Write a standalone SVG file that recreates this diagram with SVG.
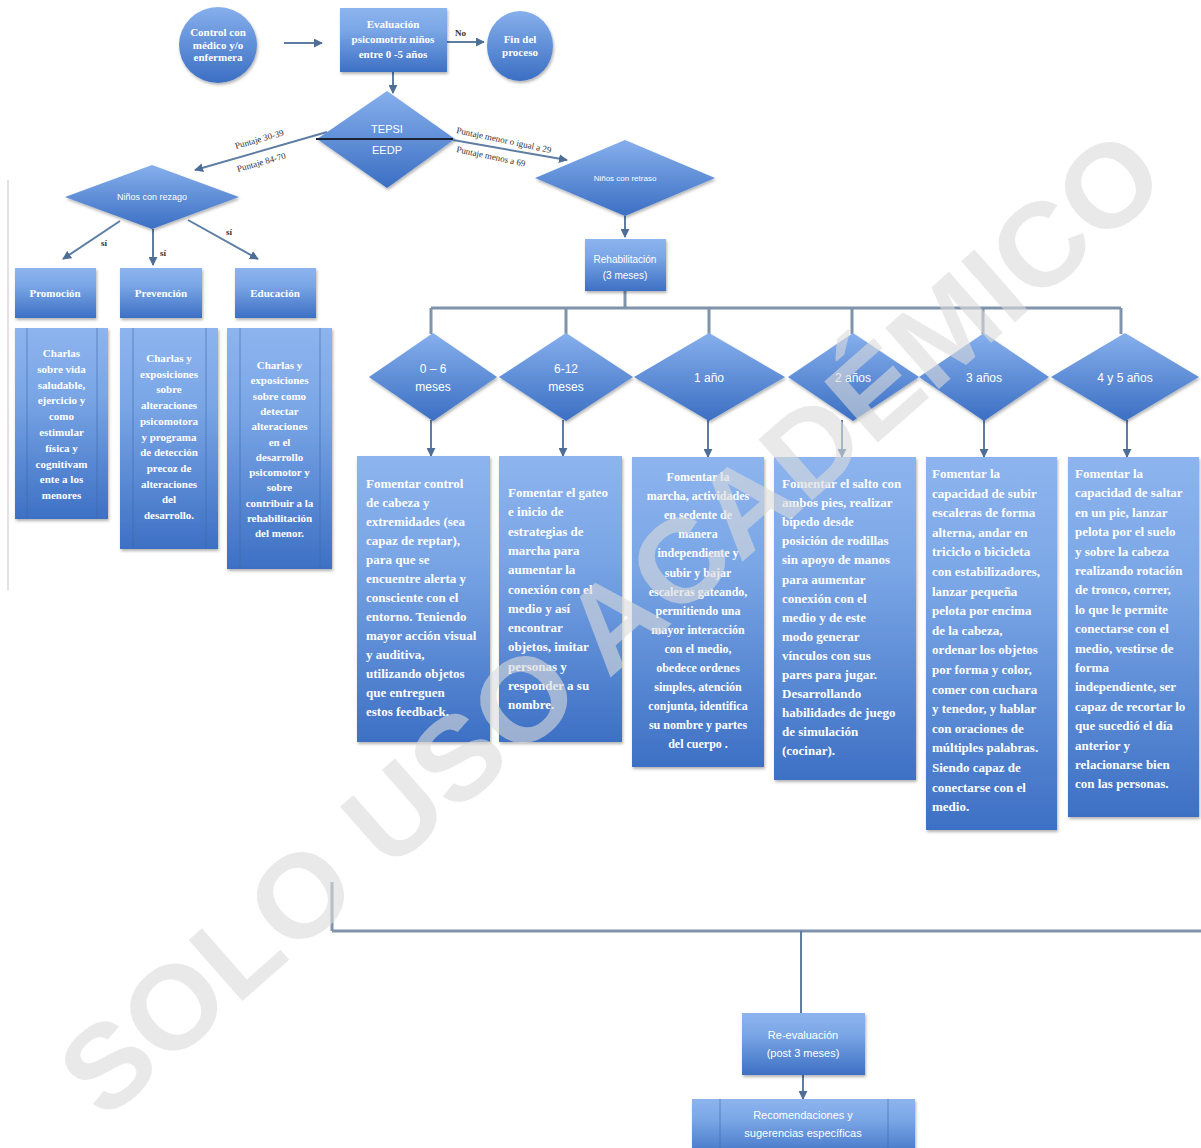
<svg xmlns="http://www.w3.org/2000/svg" width="1201" height="1148" viewBox="0 0 1201 1148">
<defs>
<linearGradient id="gBox" x1="0" y1="0" x2="0" y2="1">
<stop offset="0" stop-color="#8db4ee"/>
<stop offset="0.35" stop-color="#7aa6e6"/>
<stop offset="1" stop-color="#3d70c4"/>
</linearGradient>
<linearGradient id="gShape" x1="0" y1="0" x2="0" y2="1">
<stop offset="0" stop-color="#86afec"/>
<stop offset="1" stop-color="#3b6fc3"/>
</linearGradient>
<filter id="sh" x="-10%" y="-10%" width="130%" height="130%">
<feDropShadow dx="1" dy="2" stdDeviation="1.5" flood-color="#000" flood-opacity="0.3"/>
</filter>
<marker id="ah" viewBox="0 0 10 10" refX="9" refY="5" markerWidth="9" markerHeight="9" markerUnits="userSpaceOnUse" orient="auto">
<path d="M0,0 L10,5 L0,10 z" fill="#4f6e95"/>
</marker>
<style>
.box{fill:url(#gBox);filter:url(#sh);}
.shp{fill:url(#gShape);filter:url(#sh);}
.inner{stroke:#3e68a8;stroke-width:1;opacity:.6;fill:none}
.tx{font-family:"Liberation Serif",serif;font-weight:bold;fill:#fff;font-size:13px}
.tl{font-family:"Liberation Serif",serif;font-weight:bold;fill:#fff;font-size:11px;text-anchor:middle}
.ts{font-family:"Liberation Sans",sans-serif;fill:#fff;text-anchor:middle}
.lab{font-family:"Liberation Serif",serif;fill:#333;font-size:9px}
.con{stroke:#5d7da3;stroke-width:2;fill:none}
.bar{stroke:#7f93ab;stroke-width:3;fill:none}
</style>
</defs>
<rect width="1201" height="1148" fill="#fff"/>
<line x1="8" y1="180" x2="8" y2="590" stroke="#d8d8d8" stroke-width="1.5"/>

<g id="connectors">
<line class="con" x1="284" y1="43" x2="322" y2="43" marker-end="url(#ah)"/>
<line class="con" x1="447" y1="42" x2="484" y2="42" marker-end="url(#ah)"/>
<line class="con" x1="393" y1="72" x2="393" y2="93" marker-end="url(#ah)"/>
<line class="con" x1="327" y1="132" x2="195" y2="170" marker-end="url(#ah)"/>
<line class="con" x1="453" y1="140" x2="567" y2="160" marker-end="url(#ah)"/>
<line class="con" x1="625" y1="216" x2="625" y2="237" marker-end="url(#ah)"/>
<line class="con" x1="120" y1="221" x2="63" y2="259" marker-end="url(#ah)"/>
<line class="con" x1="153" y1="229" x2="153" y2="265" marker-end="url(#ah)"/>
<line class="con" x1="188" y1="220" x2="258" y2="259" marker-end="url(#ah)"/>
<line class="bar" x1="625" y1="291" x2="625" y2="308"/>
<line class="bar" x1="431" y1="308" x2="1121" y2="308"/>
<line class="bar" x1="431" y1="308" x2="431" y2="334"/>
<line class="bar" x1="566" y1="308" x2="566" y2="334"/>
<line class="bar" x1="709" y1="308" x2="709" y2="334"/>
<line class="bar" x1="852" y1="308" x2="852" y2="334"/>
<line class="bar" x1="983" y1="308" x2="983" y2="334"/>
<line class="bar" x1="1121" y1="308" x2="1121" y2="334"/>
<line class="con" x1="431" y1="420" x2="431" y2="456" marker-end="url(#ah)"/>
<line class="con" x1="563" y1="420" x2="563" y2="456" marker-end="url(#ah)"/>
<line class="con" x1="708" y1="420" x2="708" y2="457" marker-end="url(#ah)"/>
<line class="con" x1="842" y1="420" x2="842" y2="457" marker-end="url(#ah)"/>
<line class="con" x1="984" y1="420" x2="984" y2="457" marker-end="url(#ah)"/>
<line class="con" x1="1127" y1="420" x2="1127" y2="457" marker-end="url(#ah)"/>
<line class="bar" x1="332" y1="882" x2="332" y2="931"/>
<line class="bar" x1="332" y1="931" x2="1201" y2="931"/>
<line class="con" x1="801" y1="931" x2="801" y2="1013"/>
<line class="con" x1="803" y1="1075" x2="803" y2="1099" marker-end="url(#ah)"/>
<text class="lab" x="455" y="36" font-weight="bold">No</text>
<text class="lab" transform="translate(236,149) rotate(-16)">Puntaje  30-39</text>
<text class="lab" transform="translate(238,172) rotate(-16)">Puntaje  84-70</text>
<text class="lab" font-size="10" transform="translate(456,133) rotate(12)">Puntaje menor o igual a 29</text>
<text class="lab" font-size="10" transform="translate(456,152) rotate(12)">Puntaje menos a 69</text>
<text class="lab" x="101" y="246" font-weight="bold">sí</text>
<text class="lab" x="160" y="256" font-weight="bold">sí</text>
<text class="lab" x="226" y="235" font-weight="bold">sí</text>
</g>

<g id="n-control">
<ellipse class="shp" cx="218" cy="45" rx="39" ry="38"/>
<text class="tl" font-size="9" x="218" y="36">Control con</text>
<text class="tl" font-size="9" x="218" y="49">médico y/o</text>
<text class="tl" font-size="9" x="218" y="61">enfermera</text>
</g>
<g id="n-evaluacion">
<rect class="box" x="340" y="8" width="107" height="64"/>
<text class="tl" font-size="10" x="393" y="28">Evaluación</text>
<text class="tl" font-size="10" x="393" y="43">psicomotriz  niños</text>
<text class="tl" font-size="10" x="393" y="58">entre 0 -5 años</text>
</g>
<g id="n-fin">
<ellipse class="shp" cx="520" cy="46" rx="33" ry="35"/>
<text class="tl" font-size="8" x="520" y="43">Fin del</text>
<text class="tl" font-size="8" x="520" y="56">proceso</text>
</g>
<g id="n-tepsi">
<polygon class="shp" points="387,91 455,139 387,188 317,139"/>
<line x1="316" y1="139" x2="453" y2="139" stroke="#1b2333" stroke-width="2"/>
<text class="ts" font-size="11" x="387" y="133">TEPSI</text>
<text class="ts" font-size="11" x="387" y="154">EEDP</text>
</g>
<g id="n-rezago">
<polygon class="shp" points="152,165 239,197 152,229 65,197"/>
<text class="ts" font-size="9" x="152" y="200">Niños con rezago</text>
</g>
<g id="n-retraso">
<polygon class="shp" points="625,140 715,178 625,216 535,178"/>
<text class="ts" font-size="8" x="625" y="181">Niños con retraso</text>
</g>

<g id="n-promocion">
<rect class="box" x="15" y="268" width="81" height="50"/>
<text class="tl" x="55" y="297">Promoción</text>
</g>
<g id="n-prevencion">
<rect class="box" x="120" y="268" width="82" height="50"/>
<text class="tl" x="161" y="297">Prevención</text>
</g>
<g id="n-educacion">
<rect class="box" x="235" y="268" width="81" height="50"/>
<text class="tl" x="275" y="297">Educación</text>
</g>

<g id="n-promocion-det">
<rect class="box" x="15" y="328" width="93" height="191"/>
<line class="inner" x1="27" y1="328" x2="27" y2="519"/>
<line class="inner" x1="97" y1="328" x2="97" y2="519"/>
<text class="tl"><tspan x="61.5" y="357">Charlas</tspan><tspan x="61.5" dy="15.8">sobre vida</tspan><tspan x="61.5" dy="15.8">saludable,</tspan><tspan x="61.5" dy="15.8">ejercicio y</tspan><tspan x="61.5" dy="15.8">como</tspan><tspan x="61.5" dy="15.8">estimular</tspan><tspan x="61.5" dy="15.8">física y</tspan><tspan x="61.5" dy="15.8">cognitivam</tspan><tspan x="61.5" dy="15.8">ente a los</tspan><tspan x="61.5" dy="15.8">menores</tspan></text>
</g>
<g id="n-prevencion-det">
<rect class="box" x="120" y="328" width="98" height="221"/>
<line class="inner" x1="133" y1="328" x2="133" y2="549"/>
<line class="inner" x1="206" y1="328" x2="206" y2="549"/>
<text class="tl"><tspan x="169" y="362">Charlas y</tspan><tspan x="169" dy="15.7">exposiciones</tspan><tspan x="169" dy="15.7">sobre</tspan><tspan x="169" dy="15.7">alteraciones</tspan><tspan x="169" dy="15.7">psicomotora</tspan><tspan x="169" dy="15.7">y programa</tspan><tspan x="169" dy="15.7">de detección</tspan><tspan x="169" dy="15.7">precoz de</tspan><tspan x="169" dy="15.7">alteraciones</tspan><tspan x="169" dy="15.7">del</tspan><tspan x="169" dy="15.7">desarrollo.</tspan></text>
</g>
<g id="n-educacion-det">
<rect class="box" x="227" y="328" width="105" height="241"/>
<line class="inner" x1="240" y1="328" x2="240" y2="569"/>
<line class="inner" x1="320" y1="328" x2="320" y2="569"/>
<text class="tl"><tspan x="279.5" y="369">Charlas y</tspan><tspan x="279.5" dy="15.3">exposiciones</tspan><tspan x="279.5" dy="15.3">sobre como</tspan><tspan x="279.5" dy="15.3">detectar</tspan><tspan x="279.5" dy="15.3">alteraciones</tspan><tspan x="279.5" dy="15.3">en el</tspan><tspan x="279.5" dy="15.3">desarrollo</tspan><tspan x="279.5" dy="15.3">psicomotor y</tspan><tspan x="279.5" dy="15.3">sobre</tspan><tspan x="279.5" dy="15.3">contribuir a la</tspan><tspan x="279.5" dy="15.3">rehabilitación</tspan><tspan x="279.5" dy="15.3">del menor.</tspan></text>
</g>

<g id="n-rehab">
<rect class="box" x="585" y="239" width="81" height="52"/>
<text class="ts" font-size="10" x="625" y="263">Rehabilitación</text>
<text class="ts" font-size="10" x="625" y="279">(3 meses)</text>
</g>

<g id="n-d1">
<polygon class="shp" points="433,333 497,377 433,421 369,377"/>
<text class="ts" font-size="12" x="433" y="373">0 – 6</text>
<text class="ts" font-size="12" x="433" y="391">meses</text>
</g>
<g id="n-d2">
<polygon class="shp" points="566,333 633,377 566,421 499,377"/>
<text class="ts" font-size="12" x="566" y="373">6-12</text>
<text class="ts" font-size="12" x="566" y="391">meses</text>
</g>
<g id="n-d3">
<polygon class="shp" points="709,333 785,377 709,421 634,377"/>
<text class="ts" font-size="12" x="709" y="382">1 año</text>
</g>
<g id="n-d4">
<polygon class="shp" points="853,333 919,377 853,421 788,377"/>
<text class="ts" font-size="12" x="853" y="382">2 años</text>
</g>
<g id="n-d5">
<polygon class="shp" points="984,333 1049,377 984,421 919,377"/>
<text class="ts" font-size="12" x="984" y="382">3 años</text>
</g>
<g id="n-d6">
<polygon class="shp" points="1125,333 1199,377 1125,421 1051,377"/>
<text class="ts" font-size="12" x="1125" y="382">4 y 5 años</text>
</g>

<g id="n-b1">
<rect class="box" x="357" y="456" width="133" height="286"/>
<text class="tx"><tspan x="366" y="488">Fomentar control</tspan><tspan x="366" dy="19">de cabeza y</tspan><tspan x="366" dy="19">extremidades (sea</tspan><tspan x="366" dy="19">capaz de reptar),</tspan><tspan x="366" dy="19">para que se</tspan><tspan x="366" dy="19">encuentre alerta y</tspan><tspan x="366" dy="19">consciente con el</tspan><tspan x="366" dy="19">entorno. Teniendo</tspan><tspan x="366" dy="19">mayor acción visual</tspan><tspan x="366" dy="19">y auditiva,</tspan><tspan x="366" dy="19">utilizando objetos</tspan><tspan x="366" dy="19">que entreguen</tspan><tspan x="366" dy="19">estos feedback.</tspan></text>
</g>
<g id="n-b2">
<rect class="box" x="499" y="456" width="123" height="286"/>
<text class="tx"><tspan x="508" y="497">Fomentar el gateo</tspan><tspan x="508" dy="19.3">e inicio de</tspan><tspan x="508" dy="19.3">estrategias de</tspan><tspan x="508" dy="19.3">marcha para</tspan><tspan x="508" dy="19.3">aumentar la</tspan><tspan x="508" dy="19.3">conexión con el</tspan><tspan x="508" dy="19.3">medio y así</tspan><tspan x="508" dy="19.3">encontrar</tspan><tspan x="508" dy="19.3">objetos, imitar</tspan><tspan x="508" dy="19.3">personas y</tspan><tspan x="508" dy="19.3">responder a su</tspan><tspan x="508" dy="19.3">nombre.</tspan></text>
</g>
<g id="n-b3">
<rect class="box" x="632" y="457" width="132" height="310"/>
<text class="tx" text-anchor="middle" style="font-size:12px"><tspan x="698" y="481">Fomentar la</tspan><tspan x="698" dy="19.1">marcha, actividades</tspan><tspan x="698" dy="19.1">en sedente de</tspan><tspan x="698" dy="19.1">manera</tspan><tspan x="698" dy="19.1">independiente y</tspan><tspan x="698" dy="19.1">subir y bajar</tspan><tspan x="698" dy="19.1">escaleras gateando,</tspan><tspan x="698" dy="19.1">permitiendo una</tspan><tspan x="698" dy="19.1">mayor interacción</tspan><tspan x="698" dy="19.1">con el medio,</tspan><tspan x="698" dy="19.1">obedece ordenes</tspan><tspan x="698" dy="19.1">simples, atención</tspan><tspan x="698" dy="19.1">conjunta, identifica</tspan><tspan x="698" dy="19.1">su nombre y partes</tspan><tspan x="698" dy="19.1">del cuerpo .</tspan></text>
</g>
<g id="n-b4">
<rect class="box" x="774" y="457" width="142" height="323"/>
<text class="tx"><tspan x="782" y="488">Fomentar el salto con</tspan><tspan x="782" dy="19.1">ambos pies, realizar</tspan><tspan x="782" dy="19.1">bípedo desde</tspan><tspan x="782" dy="19.1">posición de rodillas</tspan><tspan x="782" dy="19.1">sin apoyo de manos</tspan><tspan x="782" dy="19.1">para aumentar</tspan><tspan x="782" dy="19.1">conexión con el</tspan><tspan x="782" dy="19.1">medio y de este</tspan><tspan x="782" dy="19.1">modo generar</tspan><tspan x="782" dy="19.1">vínculos con sus</tspan><tspan x="782" dy="19.1">pares para jugar.</tspan><tspan x="782" dy="19.1">Desarrollando</tspan><tspan x="782" dy="19.1">habilidades de juego</tspan><tspan x="782" dy="19.1">de simulación</tspan><tspan x="782" dy="19.1">(cocinar).</tspan></text>
</g>
<g id="n-b5">
<rect class="box" x="926" y="457" width="131" height="373"/>
<text class="tx"><tspan x="932" y="478">Fomentar la</tspan><tspan x="932" dy="19.6">capacidad de subir</tspan><tspan x="932" dy="19.6">escaleras de forma</tspan><tspan x="932" dy="19.6">alterna, andar en</tspan><tspan x="932" dy="19.6">triciclo o bicicleta</tspan><tspan x="932" dy="19.6">con estabilizadores,</tspan><tspan x="932" dy="19.6">lanzar pequeña</tspan><tspan x="932" dy="19.6">pelota por encima</tspan><tspan x="932" dy="19.6">de la cabeza,</tspan><tspan x="932" dy="19.6">ordenar los objetos</tspan><tspan x="932" dy="19.6">por forma y color,</tspan><tspan x="932" dy="19.6">comer con cuchara</tspan><tspan x="932" dy="19.6">y tenedor, y hablar</tspan><tspan x="932" dy="19.6">con oraciones de</tspan><tspan x="932" dy="19.6">múltiples palabras.</tspan><tspan x="932" dy="19.6">Siendo capaz de</tspan><tspan x="932" dy="19.6">conectarse con el</tspan><tspan x="932" dy="19.6">medio.</tspan></text>
</g>
<g id="n-b6">
<rect class="box" x="1068" y="457" width="131" height="360"/>
<text class="tx"><tspan x="1075" y="478">Fomentar la</tspan><tspan x="1075" dy="19.4">capacidad de saltar</tspan><tspan x="1075" dy="19.4">en un pie, lanzar</tspan><tspan x="1075" dy="19.4">pelota por el suelo</tspan><tspan x="1075" dy="19.4">y sobre la cabeza</tspan><tspan x="1075" dy="19.4">realizando rotación</tspan><tspan x="1075" dy="19.4">de tronco, correr,</tspan><tspan x="1075" dy="19.4">lo que le permite</tspan><tspan x="1075" dy="19.4">conectarse con el</tspan><tspan x="1075" dy="19.4">medio, vestirse de</tspan><tspan x="1075" dy="19.4">forma</tspan><tspan x="1075" dy="19.4">independiente, ser</tspan><tspan x="1075" dy="19.4">capaz de recortar lo</tspan><tspan x="1075" dy="19.4">que sucedió el día</tspan><tspan x="1075" dy="19.4">anterior y</tspan><tspan x="1075" dy="19.4">relacionarse bien</tspan><tspan x="1075" dy="19.4">con las personas.</tspan></text>
</g>

<g id="n-reeval">
<rect class="box" x="742" y="1013" width="123" height="62"/>
<text class="ts" font-size="11" x="803" y="1039">Re-evaluación</text>
<text class="ts" font-size="11" x="803" y="1057">(post 3 meses)</text>
</g>
<g id="n-recom">
<rect class="box" x="692" y="1099" width="223" height="60"/>
<line class="inner" x1="720" y1="1099" x2="720" y2="1148"/>
<line class="inner" x1="888" y1="1099" x2="888" y2="1148"/>
<text class="ts" font-size="11" x="803" y="1119">Recomendaciones y</text>
<text class="ts" font-size="11" x="803" y="1137">sugerencias específicas</text>
</g>

<text x="610" y="664" transform="rotate(-41.3 610 622)" text-anchor="middle" font-family="Liberation Sans, sans-serif" font-weight="bold" font-size="118" textLength="1420" lengthAdjust="spacingAndGlyphs" fill="#dadada" fill-opacity="0.6">SOLO USO ACADÉMICO</text>
</svg>
